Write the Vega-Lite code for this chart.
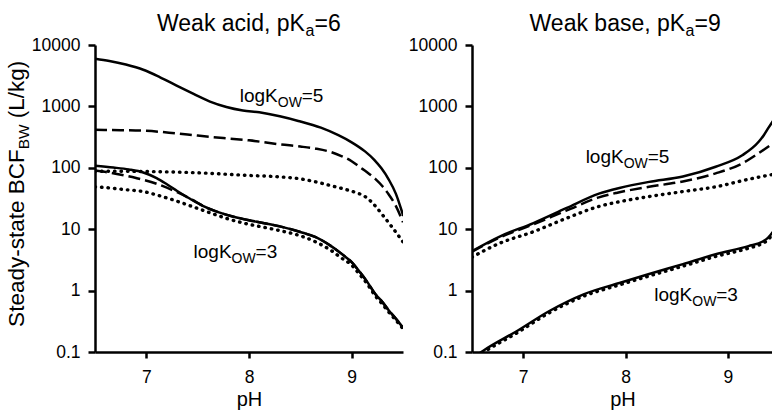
{
  "$schema": "https://vega.github.io/schema/vega-lite/v6.json",
  "padding": {"left": 5, "top": 13, "right": 0, "bottom": 0},
  "spacing": 5,
  "config": {
    "view": {"stroke": null},
    "font": "Liberation Sans",
    "axis": {"domainColor": "black", "domainWidth": 2.5, "tickColor": "black", "tickWidth": 2.5, "labelColor": "black", "labelFont": "Liberation Sans", "labelFontSize": 17.5, "titleFont": "Liberation Sans", "titleFontSize": 20, "titleFontWeight": "normal", "titleColor": "black", "grid": false, "labelFlush": false, "labelOverlap": false},
    "axisX": {"tickSize": 6, "labelPadding": 10, "titlePadding": 4},
    "axisY": {"tickSize": 7, "labelPadding": 8}
  },
  "datasets": {
    "curves": [
      {"panel":"acid","kow":"5","model":"A","pH":6.5,"v":6000},{"panel":"acid","kow":"5","model":"A","pH":6.64,"v":5500},{"panel":"acid","kow":"5","model":"A","pH":6.8,"v":4800},{"panel":"acid","kow":"5","model":"A","pH":6.97,"v":3950},{"panel":"acid","kow":"5","model":"A","pH":7.13,"v":3000},{"panel":"acid","kow":"5","model":"A","pH":7.29,"v":2200},{"panel":"acid","kow":"5","model":"A","pH":7.46,"v":1600},{"panel":"acid","kow":"5","model":"A","pH":7.62,"v":1200},{"panel":"acid","kow":"5","model":"A","pH":7.78,"v":980},{"panel":"acid","kow":"5","model":"A","pH":7.94,"v":860},{"panel":"acid","kow":"5","model":"A","pH":8.1,"v":800},{"panel":"acid","kow":"5","model":"A","pH":8.3,"v":690},{"panel":"acid","kow":"5","model":"A","pH":8.48,"v":580},{"panel":"acid","kow":"5","model":"A","pH":8.7,"v":450},{"panel":"acid","kow":"5","model":"A","pH":8.87,"v":340},{"panel":"acid","kow":"5","model":"A","pH":9.0,"v":260},{"panel":"acid","kow":"5","model":"A","pH":9.13,"v":185},{"panel":"acid","kow":"5","model":"A","pH":9.22,"v":135},{"panel":"acid","kow":"5","model":"A","pH":9.29,"v":98},{"panel":"acid","kow":"5","model":"A","pH":9.36,"v":65},{"panel":"acid","kow":"5","model":"A","pH":9.43,"v":38},{"panel":"acid","kow":"5","model":"A","pH":9.5,"v":17},
      {"panel":"acid","kow":"5","model":"B","pH":6.5,"v":415},{"panel":"acid","kow":"5","model":"B","pH":6.75,"v":410},{"panel":"acid","kow":"5","model":"B","pH":7.0,"v":400},{"panel":"acid","kow":"5","model":"B","pH":7.25,"v":370},{"panel":"acid","kow":"5","model":"B","pH":7.5,"v":335},{"panel":"acid","kow":"5","model":"B","pH":7.75,"v":305},{"panel":"acid","kow":"5","model":"B","pH":8.0,"v":280},{"panel":"acid","kow":"5","model":"B","pH":8.31,"v":240},{"panel":"acid","kow":"5","model":"B","pH":8.5,"v":222},{"panel":"acid","kow":"5","model":"B","pH":8.65,"v":205},{"panel":"acid","kow":"5","model":"B","pH":8.8,"v":180},{"panel":"acid","kow":"5","model":"B","pH":8.9,"v":155},{"panel":"acid","kow":"5","model":"B","pH":9.0,"v":128},{"panel":"acid","kow":"5","model":"B","pH":9.07,"v":105},{"panel":"acid","kow":"5","model":"B","pH":9.15,"v":85},{"panel":"acid","kow":"5","model":"B","pH":9.23,"v":66},{"panel":"acid","kow":"5","model":"B","pH":9.3,"v":50},{"panel":"acid","kow":"5","model":"B","pH":9.36,"v":37},{"panel":"acid","kow":"5","model":"B","pH":9.43,"v":24},{"panel":"acid","kow":"5","model":"B","pH":9.5,"v":13},
      {"panel":"acid","kow":"5","model":"C","pH":6.5,"v":88},{"panel":"acid","kow":"5","model":"C","pH":7.0,"v":87},{"panel":"acid","kow":"5","model":"C","pH":7.5,"v":83},{"panel":"acid","kow":"5","model":"C","pH":8.0,"v":75},{"panel":"acid","kow":"5","model":"C","pH":8.31,"v":71},{"panel":"acid","kow":"5","model":"C","pH":8.5,"v":66},{"panel":"acid","kow":"5","model":"C","pH":8.65,"v":59},{"panel":"acid","kow":"5","model":"C","pH":8.8,"v":51},{"panel":"acid","kow":"5","model":"C","pH":8.97,"v":43},{"panel":"acid","kow":"5","model":"C","pH":9.05,"v":39},{"panel":"acid","kow":"5","model":"C","pH":9.13,"v":34},{"panel":"acid","kow":"5","model":"C","pH":9.21,"v":26},{"panel":"acid","kow":"5","model":"C","pH":9.29,"v":18},{"panel":"acid","kow":"5","model":"C","pH":9.39,"v":11},{"panel":"acid","kow":"5","model":"C","pH":9.5,"v":6.2},
      {"panel":"acid","kow":"3","model":"A","pH":6.5,"v":108},{"panel":"acid","kow":"3","model":"A","pH":6.68,"v":101},{"panel":"acid","kow":"3","model":"A","pH":6.83,"v":94},{"panel":"acid","kow":"3","model":"A","pH":6.97,"v":84},{"panel":"acid","kow":"3","model":"A","pH":7.1,"v":68},{"panel":"acid","kow":"3","model":"A","pH":7.2,"v":54},{"panel":"acid","kow":"3","model":"A","pH":7.3,"v":42},{"panel":"acid","kow":"3","model":"A","pH":7.43,"v":31},{"panel":"acid","kow":"3","model":"A","pH":7.55,"v":24},{"panel":"acid","kow":"3","model":"A","pH":7.7,"v":19},{"panel":"acid","kow":"3","model":"A","pH":7.85,"v":16},{"panel":"acid","kow":"3","model":"A","pH":8.0,"v":14},{"panel":"acid","kow":"3","model":"A","pH":8.15,"v":12.5},{"panel":"acid","kow":"3","model":"A","pH":8.31,"v":11},{"panel":"acid","kow":"3","model":"A","pH":8.5,"v":9},{"panel":"acid","kow":"3","model":"A","pH":8.65,"v":7.4},{"panel":"acid","kow":"3","model":"A","pH":8.8,"v":5.3},{"panel":"acid","kow":"3","model":"A","pH":8.9,"v":4.0},{"panel":"acid","kow":"3","model":"A","pH":9.0,"v":2.9},{"panel":"acid","kow":"3","model":"A","pH":9.07,"v":2.1},{"panel":"acid","kow":"3","model":"A","pH":9.15,"v":1.4},{"panel":"acid","kow":"3","model":"A","pH":9.23,"v":0.88},{"panel":"acid","kow":"3","model":"A","pH":9.3,"v":0.65},{"panel":"acid","kow":"3","model":"A","pH":9.36,"v":0.48},{"panel":"acid","kow":"3","model":"A","pH":9.43,"v":0.35},{"panel":"acid","kow":"3","model":"A","pH":9.5,"v":0.25},
      {"panel":"acid","kow":"3","model":"B","pH":6.5,"v":90},{"panel":"acid","kow":"3","model":"B","pH":6.7,"v":80},{"panel":"acid","kow":"3","model":"B","pH":6.9,"v":68},{"panel":"acid","kow":"3","model":"B","pH":7.1,"v":55},{"panel":"acid","kow":"3","model":"B","pH":7.3,"v":40},{"panel":"acid","kow":"3","model":"B","pH":7.45,"v":30},{"panel":"acid","kow":"3","model":"B","pH":7.55,"v":24},{"panel":"acid","kow":"3","model":"B","pH":7.7,"v":19},{"panel":"acid","kow":"3","model":"B","pH":7.85,"v":16},{"panel":"acid","kow":"3","model":"B","pH":8.0,"v":14},{"panel":"acid","kow":"3","model":"B","pH":8.15,"v":12.5},{"panel":"acid","kow":"3","model":"B","pH":8.31,"v":11},{"panel":"acid","kow":"3","model":"B","pH":8.5,"v":9},{"panel":"acid","kow":"3","model":"B","pH":8.65,"v":7.4},{"panel":"acid","kow":"3","model":"B","pH":8.8,"v":5.3},{"panel":"acid","kow":"3","model":"B","pH":8.9,"v":4.0},{"panel":"acid","kow":"3","model":"B","pH":9.0,"v":2.9},{"panel":"acid","kow":"3","model":"B","pH":9.07,"v":2.1},{"panel":"acid","kow":"3","model":"B","pH":9.15,"v":1.4},{"panel":"acid","kow":"3","model":"B","pH":9.23,"v":0.88},{"panel":"acid","kow":"3","model":"B","pH":9.3,"v":0.65},{"panel":"acid","kow":"3","model":"B","pH":9.36,"v":0.48},{"panel":"acid","kow":"3","model":"B","pH":9.43,"v":0.35},{"panel":"acid","kow":"3","model":"B","pH":9.5,"v":0.25},
      {"panel":"acid","kow":"3","model":"C","pH":6.5,"v":49},{"panel":"acid","kow":"3","model":"C","pH":6.58,"v":48},{"panel":"acid","kow":"3","model":"C","pH":6.8,"v":44},{"panel":"acid","kow":"3","model":"C","pH":6.97,"v":41},{"panel":"acid","kow":"3","model":"C","pH":7.13,"v":35},{"panel":"acid","kow":"3","model":"C","pH":7.26,"v":30},{"panel":"acid","kow":"3","model":"C","pH":7.46,"v":23},{"panel":"acid","kow":"3","model":"C","pH":7.62,"v":18.5},{"panel":"acid","kow":"3","model":"C","pH":7.78,"v":15},{"panel":"acid","kow":"3","model":"C","pH":8.0,"v":12},{"panel":"acid","kow":"3","model":"C","pH":8.15,"v":10.7},{"panel":"acid","kow":"3","model":"C","pH":8.31,"v":9.4},{"panel":"acid","kow":"3","model":"C","pH":8.5,"v":7.8},{"panel":"acid","kow":"3","model":"C","pH":8.65,"v":6.2},{"panel":"acid","kow":"3","model":"C","pH":8.8,"v":4.5},{"panel":"acid","kow":"3","model":"C","pH":8.9,"v":3.4},{"panel":"acid","kow":"3","model":"C","pH":9.0,"v":2.6},{"panel":"acid","kow":"3","model":"C","pH":9.07,"v":1.9},{"panel":"acid","kow":"3","model":"C","pH":9.15,"v":1.3},{"panel":"acid","kow":"3","model":"C","pH":9.23,"v":0.82},{"panel":"acid","kow":"3","model":"C","pH":9.3,"v":0.6},{"panel":"acid","kow":"3","model":"C","pH":9.36,"v":0.45},{"panel":"acid","kow":"3","model":"C","pH":9.43,"v":0.33},{"panel":"acid","kow":"3","model":"C","pH":9.5,"v":0.24},
      {"panel":"base","kow":"5","model":"A","pH":6.5,"v":4.4},{"panel":"base","kow":"5","model":"A","pH":6.77,"v":7.6},{"panel":"base","kow":"5","model":"A","pH":7.1,"v":12.6},{"panel":"base","kow":"5","model":"A","pH":7.42,"v":22},{"panel":"base","kow":"5","model":"A","pH":7.74,"v":38},{"panel":"base","kow":"5","model":"A","pH":7.94,"v":47},{"panel":"base","kow":"5","model":"A","pH":8.23,"v":59},{"panel":"base","kow":"5","model":"A","pH":8.56,"v":72},{"panel":"base","kow":"5","model":"A","pH":8.88,"v":104},{"panel":"base","kow":"5","model":"A","pH":9.14,"v":160},{"panel":"base","kow":"5","model":"A","pH":9.3,"v":265},{"panel":"base","kow":"5","model":"A","pH":9.35,"v":340},{"panel":"base","kow":"5","model":"A","pH":9.4,"v":460},{"panel":"base","kow":"5","model":"A","pH":9.44,"v":580},
      {"panel":"base","kow":"5","model":"B","pH":6.5,"v":4.3},{"panel":"base","kow":"5","model":"B","pH":6.77,"v":7.3},{"panel":"base","kow":"5","model":"B","pH":7.1,"v":12},{"panel":"base","kow":"5","model":"B","pH":7.42,"v":20},{"panel":"base","kow":"5","model":"B","pH":7.74,"v":33},{"panel":"base","kow":"5","model":"B","pH":7.91,"v":39},{"panel":"base","kow":"5","model":"B","pH":8.23,"v":49},{"panel":"base","kow":"5","model":"B","pH":8.56,"v":60},{"panel":"base","kow":"5","model":"B","pH":8.88,"v":81},{"panel":"base","kow":"5","model":"B","pH":9.14,"v":118},{"panel":"base","kow":"5","model":"B","pH":9.3,"v":173},{"panel":"base","kow":"5","model":"B","pH":9.44,"v":250},
      {"panel":"base","kow":"5","model":"C","pH":6.5,"v":3.5},{"panel":"base","kow":"5","model":"C","pH":6.77,"v":5.9},{"panel":"base","kow":"5","model":"C","pH":7.1,"v":9.1},{"panel":"base","kow":"5","model":"C","pH":7.42,"v":15},{"panel":"base","kow":"5","model":"C","pH":7.74,"v":23.5},{"panel":"base","kow":"5","model":"C","pH":7.94,"v":28},{"panel":"base","kow":"5","model":"C","pH":8.23,"v":34},{"panel":"base","kow":"5","model":"C","pH":8.56,"v":41},{"panel":"base","kow":"5","model":"C","pH":8.88,"v":49},{"panel":"base","kow":"5","model":"C","pH":9.2,"v":65},{"panel":"base","kow":"5","model":"C","pH":9.44,"v":78},
      {"panel":"base","kow":"3","model":"C","pH":6.5,"v":0.073},{"panel":"base","kow":"3","model":"C","pH":6.61,"v":0.098},{"panel":"base","kow":"3","model":"C","pH":6.94,"v":0.205},{"panel":"base","kow":"3","model":"C","pH":7.26,"v":0.44},{"panel":"base","kow":"3","model":"C","pH":7.59,"v":0.81},{"panel":"base","kow":"3","model":"C","pH":7.94,"v":1.24},{"panel":"base","kow":"3","model":"C","pH":8.23,"v":1.73},{"panel":"base","kow":"3","model":"C","pH":8.56,"v":2.5},{"panel":"base","kow":"3","model":"C","pH":8.88,"v":3.6},{"panel":"base","kow":"3","model":"C","pH":9.2,"v":4.9},{"panel":"base","kow":"3","model":"C","pH":9.34,"v":5.9},{"panel":"base","kow":"3","model":"C","pH":9.39,"v":6.7},{"panel":"base","kow":"3","model":"C","pH":9.44,"v":8.5},
      {"panel":"base","kow":"3","model":"A","pH":6.5,"v":0.078},{"panel":"base","kow":"3","model":"A","pH":6.61,"v":0.105},{"panel":"base","kow":"3","model":"A","pH":6.94,"v":0.22},{"panel":"base","kow":"3","model":"A","pH":7.26,"v":0.47},{"panel":"base","kow":"3","model":"A","pH":7.59,"v":0.87},{"panel":"base","kow":"3","model":"A","pH":7.94,"v":1.33},{"panel":"base","kow":"3","model":"A","pH":8.23,"v":1.86},{"panel":"base","kow":"3","model":"A","pH":8.56,"v":2.7},{"panel":"base","kow":"3","model":"A","pH":8.88,"v":3.9},{"panel":"base","kow":"3","model":"A","pH":9.2,"v":5.3},{"panel":"base","kow":"3","model":"A","pH":9.34,"v":6.3},{"panel":"base","kow":"3","model":"A","pH":9.39,"v":7.2},{"panel":"base","kow":"3","model":"A","pH":9.44,"v":9.1}
    ],
    "labels": [
      {"panel":"acid","main":"logK","sub":"OW","tail":"=5","pH":7.91,"v":1170},
      {"panel":"acid","main":"logK","sub":"OW","tail":"=3","pH":7.46,"v":3.4},
      {"panel":"base","main":"logK","sub":"OW","tail":"=5","pH":7.61,"v":118},
      {"panel":"base","main":"logK","sub":"OW","tail":"=3","pH":8.28,"v":0.67}
    ]
  },
  "hconcat": [
    {
      "width": 308,
      "height": 307,
      "layer": [
        {
          "data": {"name": "curves"},
          "transform": [{"filter": "datum.panel === 'acid' && datum.model === 'C'"}],
          "mark": {"type": "line", "clip": true, "color": "black", "strokeCap": "round", "strokeWidth": 3.4, "strokeDash": [0.5, 6], "interpolate": "monotone"},
          "encoding": {
            "x": {"field": "pH", "type": "quantitative", "scale": {"domain": [6.5, 9.5], "nice": false, "zero": false}, "axis": {"values": [7, 8, 9], "format": "d", "title": "pH"}},
            "y": {"field": "v", "type": "quantitative", "scale": {"type": "log", "domain": [0.1, 10000], "nice": false}, "axis": {"values": [0.1, 1, 10, 100, 1000, 10000], "format": "~g", "title": null}},
            "detail": {"field": "kow"}
          }
        },
        {
          "data": {"name": "curves"},
          "transform": [{"filter": "datum.panel === 'acid' && datum.model === 'B'"}],
          "mark": {"type": "line", "clip": true, "color": "black", "strokeWidth": 2.5, "strokeDash": [12, 5], "interpolate": "monotone"},
          "encoding": {"x": {"field": "pH", "type": "quantitative"}, "y": {"field": "v", "type": "quantitative"}, "detail": {"field": "kow"}}
        },
        {
          "data": {"name": "curves"},
          "transform": [{"filter": "datum.panel === 'acid' && datum.model === 'A'"}],
          "mark": {"type": "line", "clip": true, "color": "black", "strokeWidth": 2.5, "strokeCap": "round", "interpolate": "monotone"},
          "encoding": {"x": {"field": "pH", "type": "quantitative"}, "y": {"field": "v", "type": "quantitative"}, "detail": {"field": "kow"}}
        },
        {
          "data": {"name": "labels"},
          "transform": [{"filter": "datum.panel === 'acid'"}],
          "mark": {"type": "text", "align": "left", "baseline": "alphabetic", "fontSize": 19, "color": "black"},
          "encoding": {"x": {"field": "pH", "type": "quantitative"}, "y": {"field": "v", "type": "quantitative"}, "text": {"field": "main"}}
        },
        {
          "data": {"name": "labels"},
          "transform": [{"filter": "datum.panel === 'acid'"}],
          "mark": {"type": "text", "align": "left", "baseline": "alphabetic", "fontSize": 14, "dx": 38, "dy": 5, "color": "black"},
          "encoding": {"x": {"field": "pH", "type": "quantitative"}, "y": {"field": "v", "type": "quantitative"}, "text": {"field": "sub"}}
        },
        {
          "data": {"name": "labels"},
          "transform": [{"filter": "datum.panel === 'acid'"}],
          "mark": {"type": "text", "align": "left", "baseline": "alphabetic", "fontSize": 19, "dx": 62, "color": "black"},
          "encoding": {"x": {"field": "pH", "type": "quantitative"}, "y": {"field": "v", "type": "quantitative"}, "text": {"field": "tail"}}
        },
        {
          "data": {"values": [{"main": "Weak acid, pK", "sub": "a", "tail": "=6"}]},
          "mark": {"type": "text", "align": "left", "baseline": "alphabetic", "fontSize": 23, "dx": -92, "dy": -14, "color": "black"},
          "encoding": {"x": {"datum": 8}, "y": {"datum": 10000}, "text": {"field": "main"}}
        },
        {
          "data": {"values": [{"main": "Weak acid, pK", "sub": "a", "tail": "=6"}]},
          "mark": {"type": "text", "align": "left", "baseline": "alphabetic", "fontSize": 16, "dx": 56.5, "dy": -9, "color": "black"},
          "encoding": {"x": {"datum": 8}, "y": {"datum": 10000}, "text": {"field": "sub"}}
        },
        {
          "data": {"values": [{"main": "Weak acid, pK", "sub": "a", "tail": "=6"}]},
          "mark": {"type": "text", "align": "left", "baseline": "alphabetic", "fontSize": 23, "dx": 65.5, "dy": -14, "color": "black"},
          "encoding": {"x": {"datum": 8}, "y": {"datum": 10000}, "text": {"field": "tail"}}
        },
        {
          "data": {"values": [{"main": "Steady-state BCF", "sub": "BW", "tail": "(L/kg)"}]},
          "mark": {"type": "text", "align": "right", "baseline": "alphabetic", "angle": 270, "fontSize": 22.5, "dx": 18.5, "dy": -71.5, "color": "black"},
          "encoding": {"x": {"datum": 6.5}, "y": {"datum": 100}, "text": {"field": "main"}}
        },
        {
          "data": {"values": [{"main": "Steady-state BCF", "sub": "BW", "tail": "(L/kg)"}]},
          "mark": {"type": "text", "align": "left", "baseline": "alphabetic", "angle": 270, "fontSize": 15.5, "dx": 18.5, "dy": -66.5, "color": "black"},
          "encoding": {"x": {"datum": 6.5}, "y": {"datum": 100}, "text": {"field": "sub"}}
        },
        {
          "data": {"values": [{"main": "Steady-state BCF", "sub": "BW", "tail": "(L/kg)"}]},
          "mark": {"type": "text", "align": "left", "baseline": "alphabetic", "angle": 270, "fontSize": 22.5, "dx": 49.5, "dy": -71.5, "color": "black"},
          "encoding": {"x": {"datum": 6.5}, "y": {"datum": 100}, "text": {"field": "tail"}}
        }
      ]
    },
    {
      "width": 301,
      "height": 307,
      "layer": [
        {
          "data": {"name": "curves"},
          "transform": [{"filter": "datum.panel === 'base' && datum.model === 'C'"}],
          "mark": {"type": "line", "clip": true, "color": "black", "strokeCap": "round", "strokeWidth": 3.4, "strokeDash": [0.5, 6], "interpolate": "monotone"},
          "encoding": {
            "x": {"field": "pH", "type": "quantitative", "scale": {"domain": [6.5, 9.44], "nice": false, "zero": false}, "axis": {"values": [7, 8, 9], "format": "d", "title": "pH"}},
            "y": {"field": "v", "type": "quantitative", "scale": {"type": "log", "domain": [0.1, 10000], "nice": false}, "axis": {"values": [0.1, 1, 10, 100, 1000, 10000], "format": "~g", "title": null}},
            "detail": {"field": "kow"}
          }
        },
        {
          "data": {"name": "curves"},
          "transform": [{"filter": "datum.panel === 'base' && datum.model === 'B'"}],
          "mark": {"type": "line", "clip": true, "color": "black", "strokeWidth": 2.5, "strokeDash": [12, 5], "interpolate": "monotone"},
          "encoding": {"x": {"field": "pH", "type": "quantitative"}, "y": {"field": "v", "type": "quantitative"}, "detail": {"field": "kow"}}
        },
        {
          "data": {"name": "curves"},
          "transform": [{"filter": "datum.panel === 'base' && datum.model === 'A'"}],
          "mark": {"type": "line", "clip": true, "color": "black", "strokeWidth": 2.5, "strokeCap": "round", "interpolate": "monotone"},
          "encoding": {"x": {"field": "pH", "type": "quantitative"}, "y": {"field": "v", "type": "quantitative"}, "detail": {"field": "kow"}}
        },
        {
          "data": {"name": "labels"},
          "transform": [{"filter": "datum.panel === 'base'"}],
          "mark": {"type": "text", "align": "left", "baseline": "alphabetic", "fontSize": 19, "color": "black"},
          "encoding": {"x": {"field": "pH", "type": "quantitative"}, "y": {"field": "v", "type": "quantitative"}, "text": {"field": "main"}}
        },
        {
          "data": {"name": "labels"},
          "transform": [{"filter": "datum.panel === 'base'"}],
          "mark": {"type": "text", "align": "left", "baseline": "alphabetic", "fontSize": 14, "dx": 38, "dy": 5, "color": "black"},
          "encoding": {"x": {"field": "pH", "type": "quantitative"}, "y": {"field": "v", "type": "quantitative"}, "text": {"field": "sub"}}
        },
        {
          "data": {"name": "labels"},
          "transform": [{"filter": "datum.panel === 'base'"}],
          "mark": {"type": "text", "align": "left", "baseline": "alphabetic", "fontSize": 19, "dx": 62, "color": "black"},
          "encoding": {"x": {"field": "pH", "type": "quantitative"}, "y": {"field": "v", "type": "quantitative"}, "text": {"field": "tail"}}
        },
        {
          "data": {"values": [{"main": "Weak base, pK", "sub": "a", "tail": "=9"}]},
          "mark": {"type": "text", "align": "left", "baseline": "alphabetic", "fontSize": 23, "dx": -96, "dy": -14, "color": "black"},
          "encoding": {"x": {"datum": 8}, "y": {"datum": 10000}, "text": {"field": "main"}}
        },
        {
          "data": {"values": [{"main": "Weak base, pK", "sub": "a", "tail": "=9"}]},
          "mark": {"type": "text", "align": "left", "baseline": "alphabetic", "fontSize": 16, "dx": 60, "dy": -9, "color": "black"},
          "encoding": {"x": {"datum": 8}, "y": {"datum": 10000}, "text": {"field": "sub"}}
        },
        {
          "data": {"values": [{"main": "Weak base, pK", "sub": "a", "tail": "=9"}]},
          "mark": {"type": "text", "align": "left", "baseline": "alphabetic", "fontSize": 23, "dx": 69, "dy": -14, "color": "black"},
          "encoding": {"x": {"datum": 8}, "y": {"datum": 10000}, "text": {"field": "tail"}}
        }
      ]
    }
  ]
}
